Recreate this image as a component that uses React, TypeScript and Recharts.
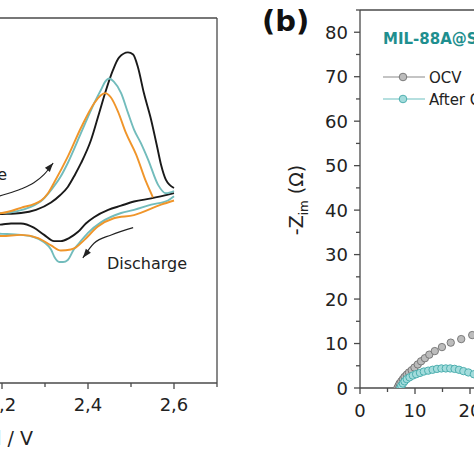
import React from "react";
import {
  LineChart,
  Line,
  XAxis,
  YAxis,
  ReferenceLine,
  ReferenceDot,
  ScatterChart,
  Scatter,
  Legend,
  Label,
} from "recharts";

const FONT = "'DejaVu Sans', Verdana, sans-serif";
const AXIS = "#4a4a4a";

// (a) cyclic voltammetry, potential (V) vs current
const blackCharge: [number, number][] = [
  [2.1, 0.11], [2.2, 0.12], [2.244, 0.13], [2.279, 0.16], [2.314, 0.23],
  [2.335, 0.3], [2.353, 0.38], [2.37, 0.5], [2.384, 0.61], [2.407, 0.83],
  [2.426, 1.09], [2.442, 1.31], [2.458, 1.5], [2.472, 1.62], [2.493, 1.67],
  [2.505, 1.65], [2.516, 1.53], [2.53, 1.28], [2.547, 1.02], [2.56, 0.78],
  [2.57, 0.59], [2.581, 0.45], [2.6, 0.37],
];
const blackDischarge: [number, number][] = [
  [2.1, 0.0], [2.2, 0.02], [2.221, 0.03], [2.244, 0.03], [2.274, -0.01],
  [2.298, -0.08], [2.321, -0.14], [2.337, -0.14], [2.356, -0.11],
  [2.377, -0.05], [2.395, 0.03], [2.414, 0.09], [2.447, 0.16], [2.477, 0.2],
  [2.507, 0.24], [2.547, 0.27], [2.6, 0.32],
];
const tealCharge: [number, number][] = [
  [2.1, 0.12], [2.2, 0.13], [2.267, 0.19], [2.295, 0.26], [2.314, 0.35],
  [2.335, 0.47], [2.353, 0.61], [2.384, 0.9], [2.414, 1.18], [2.43, 1.31],
  [2.44, 1.39], [2.449, 1.42], [2.46, 1.39], [2.477, 1.28], [2.493, 1.09],
  [2.507, 0.93], [2.523, 0.8], [2.54, 0.64], [2.563, 0.4], [2.581, 0.32],
  [2.6, 0.34],
];
const tealDischarge: [number, number][] = [
  [2.1, -0.06], [2.2, -0.07], [2.244, -0.08], [2.274, -0.1], [2.298, -0.15],
  [2.314, -0.22], [2.323, -0.3], [2.333, -0.34], [2.342, -0.34],
  [2.353, -0.32], [2.367, -0.22], [2.379, -0.16], [2.4, -0.06], [2.43, 0.04],
  [2.477, 0.13], [2.507, 0.16], [2.547, 0.21], [2.586, 0.25], [2.6, 0.29],
];
const orangeCharge: [number, number][] = [
  [2.1, 0.11], [2.2, 0.13], [2.244, 0.18], [2.291, 0.25], [2.307, 0.32],
  [2.321, 0.42], [2.353, 0.67], [2.384, 0.95], [2.414, 1.18], [2.43, 1.26],
  [2.44, 1.28], [2.453, 1.24], [2.47, 1.1], [2.488, 0.9], [2.512, 0.69],
  [2.535, 0.43], [2.551, 0.28],
];
const orangeDischarge: [number, number][] = [
  [2.1, -0.08], [2.2, -0.09], [2.244, -0.08], [2.284, -0.11], [2.314, -0.18],
  [2.337, -0.23], [2.36, -0.22], [2.372, -0.2], [2.391, -0.13], [2.423, 0.0],
  [2.46, 0.08], [2.507, 0.11], [2.57, 0.21], [2.6, 0.25],
];
const chargeArrow: [number, number][] = [
  [2.17, 0.26], [2.2, 0.3], [2.244, 0.36], [2.274, 0.42], [2.298, 0.5], [2.319, 0.61],
];
const dischargeArrow: [number, number][] = [
  [2.388, -0.3], [2.414, -0.16], [2.454, -0.08], [2.505, -0.01],
];
const cvTicks = [2.0, 2.1, 2.2, 2.3, 2.4, 2.5, 2.6, 2.7];

// (b) Nyquist plot, Z_re vs -Z_im (ohm)
const ocvRe = [6.8, 7.0, 7.2, 7.5, 7.8, 8.1, 8.5, 8.9, 9.4, 9.9, 10.5, 11.1, 11.8, 12.6, 13.6, 14.9, 16.5, 18.4, 20.4, 22.7];
const ocvIm = [0.0, 0.5, 1.0, 1.5, 2.0, 2.5, 3.0, 3.5, 4.0, 4.6, 5.3, 6.0, 6.7, 7.5, 8.3, 9.2, 10.2, 11.0, 11.9, 12.6];
const afterRe = [7.3, 7.5, 7.8, 8.1, 8.5, 9.0, 9.6, 10.2, 10.9, 11.6, 12.4, 13.2, 14.0, 14.8, 15.6, 16.4, 17.2, 18.0, 18.8, 19.7, 20.7];
const afterIm = [0.0, 0.5, 1.0, 1.5, 2.0, 2.4, 2.8, 3.1, 3.4, 3.7, 3.9, 4.1, 4.3, 4.4, 4.4, 4.4, 4.3, 4.1, 3.8, 3.5, 3.1];
const nyqXTicks = [0, 5, 10, 15, 20, 25, 30, 35, 40];
const nyqYTicks = [0, 5, 10, 15, 20, 25, 30, 35, 40, 45, 50, 55, 60, 65, 70, 75, 80, 85];
const nyqNames = ["OCV", "After Cycling"];

const toCv = (a: [number, number][]) => a.map(([v, i]) => ({ v, i }));
const toNyq = (re: number[], im: number[]) => re.map((x, k) => ({ x, y: im[k] }));

const CV_COLORS = { black: "#1a1a1a", teal: "#72bcbc", orange: "#f0952a" };
const NYQ = [
  { fill: "#bcbcbc", stroke: "#707070", line: "#8a8a8a" },
  { fill: "#a3dcdc", stroke: "#43a9a9", line: "#6cc0c0" },
];

function CvTick(props: any) {
  const { x, y, payload } = props;
  const v = payload.value as number;
  const major = Math.round(v * 10) % 2 === 0;
  return (
    <g>
      <line x1={x} y1={y} x2={x} y2={y + (major ? 6 : 4)} stroke={AXIS} strokeWidth={1.3} />
      {major && (
        <text x={x} y={y + 28} textAnchor="middle" fontSize={18} fill="#222" fontFamily={FONT}>
          {v.toFixed(1).replace(".", ",")}
        </text>
      )}
    </g>
  );
}

function NyqXTick(props: any) {
  const { x, y, payload } = props;
  const v = payload.value as number;
  const major = v % 10 === 0;
  return (
    <g>
      <line x1={x} y1={y} x2={x} y2={y + (major ? 6 : 4)} stroke={AXIS} strokeWidth={1.3} />
      {major && (
        <text x={x} y={y + 29} textAnchor="middle" fontSize={18} fill="#222" fontFamily={FONT}>
          {v}
        </text>
      )}
    </g>
  );
}

function NyqYTick(props: any) {
  const { x, y, payload } = props;
  const v = payload.value as number;
  const major = v % 10 === 0;
  return (
    <g>
      <line x1={x} y1={y} x2={x - (major ? 6 : 4)} y2={y} stroke={AXIS} strokeWidth={1.3} />
      {major && (
        <text x={x - 12} y={y + 6.5} textAnchor="end" fontSize={18} fill="#222" fontFamily={FONT}>
          {v}
        </text>
      )}
    </g>
  );
}

function arrowHead(tipIndex: number, angle: number) {
  return (p: any) => {
    if (p.index !== tipIndex) return <g key={`n${p.index}`} />;
    return (
      <polygon
        key={`a${p.index}`}
        points="0,0 -9,-3.2 -9,3.2"
        fill="#222"
        transform={`translate(${p.cx},${p.cy}) rotate(${angle})`}
      />
    );
  };
}

function textAt(value: string, anchor: "start" | "end") {
  return (p: any) => (
    <text x={p.viewBox.x} y={p.viewBox.y} textAnchor={anchor} fontSize={16} fill="#222" fontFamily={FONT}>
      {value}
    </text>
  );
}

function NyqLegend() {
  return (
    <svg width={220} height={84}>
      <text x={0} y={16} fontSize={15} fontWeight="bold" fill="#1f8f8f" fontFamily={FONT}>
        MIL-88A@S
      </text>
      {nyqNames.map((name, k) => (
        <g key={name} transform={`translate(0,${49 + k * 22})`}>
          <line x1={0} y1={0} x2={42} y2={0} stroke={NYQ[k].line} strokeWidth={1.2} />
          <circle cx={20} cy={0} r={3.8} fill={NYQ[k].fill} stroke={NYQ[k].stroke} strokeWidth={0.9} />
          <text x={46} y={5.5} fontSize={15} fill="#222" fontFamily={FONT}>
            {name}
          </text>
        </g>
      ))}
    </svg>
  );
}

const circleShape = (k: number) => (p: any) => (
  <circle cx={p.cx} cy={p.cy} r={3.7} fill={NYQ[k].fill} stroke={NYQ[k].stroke} strokeWidth={0.9} />
);

export default function App() {
  const cvLines: [string, [number, number][], string][] = [
    ["bc", blackCharge, CV_COLORS.black],
    ["bd", blackDischarge, CV_COLORS.black],
    ["td", tealDischarge, CV_COLORS.teal],
    ["tc", tealCharge, CV_COLORS.teal],
    ["oc", orangeCharge, CV_COLORS.orange],
    ["od", orangeDischarge, CV_COLORS.orange],
  ];

  return (
    <div
      style={{
        position: "absolute",
        left: 0,
        top: 0,
        width: 474,
        height: 474,
        overflow: "hidden",
        background: "#fff",
        fontFamily: FONT,
      }}
    >
      <div style={{ position: "absolute", left: -100, top: 0, width: 320, height: 474 }}>
        <LineChart width={320} height={474} margin={{ top: 18, right: 3, bottom: 51, left: 16 }}>
          <XAxis
            type="number"
            dataKey="v"
            domain={[2.0, 2.7]}
            ticks={cvTicks}
            interval={0}
            allowDataOverflow
            height={40}
            axisLine={{ stroke: AXIS, strokeWidth: 1.3 }}
            tickLine={false}
            tickSize={0}
            tickMargin={0}
            tick={CvTick}
          >
            <Label
              content={(p: any) => (
                <text
                  x={p.viewBox.x + 117}
                  y={p.viewBox.y + 62}
                  textAnchor="end"
                  fontSize={19}
                  fill="#222"
                  fontFamily={FONT}
                >
                  Potential / V
                </text>
              )}
            />
          </XAxis>
          <YAxis type="number" dataKey="i" domain={[-1.5, 2.0]} hide allowDataOverflow />
          <ReferenceLine y={2.0} stroke={AXIS} strokeWidth={1.3} />
          <ReferenceLine x={2.7} stroke={AXIS} strokeWidth={1.3} />
          {cvLines.map(([id, pts, color]) => (
            <Line
              key={id}
              data={toCv(pts)}
              dataKey="i"
              type="monotone"
              stroke={color}
              strokeWidth={1.9}
              dot={false}
              isAnimationActive={false}
            />
          ))}
          <Line
            data={toCv(chargeArrow)}
            dataKey="i"
            type="monotone"
            stroke="#222"
            strokeWidth={1.1}
            dot={arrowHead(chargeArrow.length - 1, -50)}
            isAnimationActive={false}
          />
          <Line
            data={toCv(dischargeArrow)}
            dataKey="i"
            type="monotone"
            stroke="#222"
            strokeWidth={1.1}
            dot={arrowHead(0, 128)}
            isAnimationActive={false}
          />
          <ReferenceDot x={2.212} y={0.447} r={0} stroke="none" label={textAt("Charge", "end")} />
          <ReferenceDot x={2.444} y={-0.407} r={0} stroke="none" label={textAt("Discharge", "start")} />
        </LineChart>
      </div>

      <div style={{ position: "absolute", left: 250, top: 0, width: 340, height: 474 }}>
        <ScatterChart width={340} height={474} margin={{ top: 10, right: 10, bottom: 46, left: 0 }}>
          <XAxis
            type="number"
            dataKey="x"
            domain={[0, 40]}
            ticks={nyqXTicks}
            interval={0}
            allowDataOverflow
            height={40}
            axisLine={{ stroke: AXIS, strokeWidth: 1.3 }}
            tickLine={false}
            tickSize={0}
            tickMargin={0}
            tick={NyqXTick}
          />
          <YAxis
            type="number"
            dataKey="y"
            domain={[0, 85]}
            ticks={nyqYTicks}
            interval={0}
            allowDataOverflow
            width={110}
            axisLine={{ stroke: AXIS, strokeWidth: 1.3 }}
            tickLine={false}
            tickSize={0}
            tickMargin={0}
            tick={NyqYTick}
          >
            <Label
              content={(p: any) => {
                const cx = p.viewBox.x + 53;
                const cy = p.viewBox.y + p.viewBox.height / 2 + 1;
                return (
                  <text
                    x={cx}
                    y={cy}
                    transform={`rotate(-90 ${cx} ${cy})`}
                    textAnchor="middle"
                    fontSize={19}
                    fill="#222"
                    fontFamily={FONT}
                  >
                    -Z
                    <tspan fontSize={12} dy={5}>im</tspan>
                    <tspan dy={-5}> (Ω)</tspan>
                  </text>
                );
              }}
            />
          </YAxis>
          <ReferenceLine y={85} stroke={AXIS} strokeWidth={1.3} />
          <Scatter
            name={nyqNames[0]}
            data={toNyq(ocvRe, ocvIm)}
            shape={circleShape(0)}
            isAnimationActive={false}
          />
          <Scatter
            name={nyqNames[1]}
            data={toNyq(afterRe, afterIm)}
            shape={circleShape(1)}
            isAnimationActive={false}
          />
          <Legend
            layout="horizontal"
            verticalAlign="middle"
            align="center"
            content={NyqLegend}
            wrapperStyle={{ position: "absolute", left: 133, top: 28, width: 220, height: 84 }}
          />
        </ScatterChart>
      </div>

      <div
        style={{
          position: "absolute",
          left: 262,
          top: 3,
          fontSize: 29,
          fontWeight: "bold",
          color: "#111",
          fontFamily: FONT,
          lineHeight: "36px",
        }}
      >
        (b)
      </div>
    </div>
  );
}
